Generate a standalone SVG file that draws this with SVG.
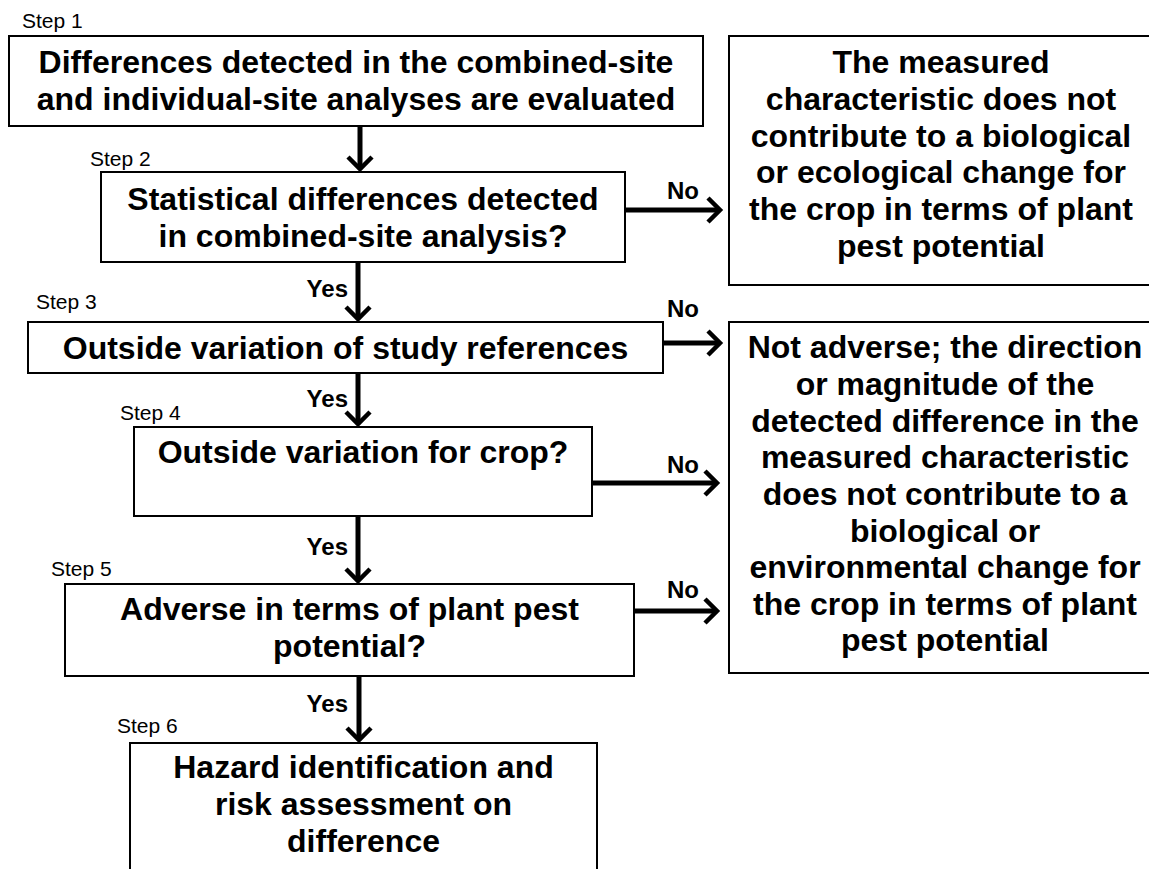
<svg xmlns="http://www.w3.org/2000/svg" width="1149" height="869" viewBox="0 0 1149 869">
<style>
.box{fill:#fff;stroke:#000;stroke-width:2}
.t{font-family:"Liberation Sans",Arial,sans-serif;font-weight:bold;font-size:32px;text-anchor:middle;fill:#000}
.step{font-family:"Liberation Sans",Arial,sans-serif;font-size:21px;fill:#000}
.lbl{font-family:"Liberation Sans",Arial,sans-serif;font-weight:bold;font-size:24px;fill:#000}
.c{stroke:#000;stroke-width:5;fill:none}
</style>
<defs>
<marker id="ah" viewBox="-20 -16 26 32" refX="0" refY="0" markerWidth="26" markerHeight="32" markerUnits="userSpaceOnUse" orient="auto" overflow="visible">
<path d="M-11,-12 L1,0 L-11,12" fill="none" stroke="#000" stroke-width="4.5" stroke-linejoin="miter"/>
</marker>
</defs>
<rect width="1149" height="869" fill="#fff"/>

<g id="step1">
<text class="step" x="22" y="28">Step 1</text>
<rect class="box" x="9" y="36" width="694" height="90"/>
<text class="t" x="356" y="73">Differences detected in the combined-site</text>
<text class="t" x="356" y="110">and individual-site analyses are evaluated</text>
</g>

<g id="step2">
<text class="step" x="90" y="166">Step 2</text>
<rect class="box" x="101" y="172" width="524" height="90"/>
<text class="t" x="363" y="210">Statistical differences detected</text>
<text class="t" x="363" y="247">in combined-site analysis?</text>
</g>

<g id="step3">
<text class="step" x="36" y="309">Step 3</text>
<rect class="box" x="28" y="322" width="635" height="51"/>
<text class="t" x="345.5" y="359">Outside variation of study references</text>
</g>

<g id="step4">
<text class="step" x="120" y="420">Step 4</text>
<rect class="box" x="134" y="427" width="458" height="89"/>
<text class="t" x="363" y="463">Outside variation for crop?</text>
</g>

<g id="step5">
<text class="step" x="51" y="576">Step 5</text>
<rect class="box" x="65" y="584" width="569" height="92"/>
<text class="t" x="349.5" y="620">Adverse in terms of plant pest</text>
<text class="t" x="349.5" y="657">potential?</text>
</g>

<g id="step6">
<text class="step" x="117" y="733">Step 6</text>
<rect class="box" x="130" y="743" width="467" height="140"/>
<text class="t" x="363.5" y="778">Hazard identification and</text>
<text class="t" x="363.5" y="815">risk assessment on</text>
<text class="t" x="363.5" y="852">difference</text>
</g>

<g id="outcome1">
<rect class="box" x="729" y="36" width="430" height="249"/>
<text class="t" x="941" y="73">The measured</text>
<text class="t" x="941" y="110">characteristic does not</text>
<text class="t" x="941" y="147">contribute to a biological</text>
<text class="t" x="941" y="183">or ecological change for</text>
<text class="t" x="941" y="220">the crop in terms of plant</text>
<text class="t" x="941" y="257">pest potential</text>
</g>

<g id="outcome2">
<rect class="box" x="729" y="322" width="436" height="351"/>
<text class="t" x="945" y="358">Not adverse; the direction</text>
<text class="t" x="945" y="395">or magnitude of the</text>
<text class="t" x="945" y="432">detected difference in the</text>
<text class="t" x="945" y="468">measured characteristic</text>
<text class="t" x="945" y="505">does not contribute to a</text>
<text class="t" x="945" y="542">biological or</text>
<text class="t" x="945" y="578">environmental change for</text>
<text class="t" x="945" y="615">the crop in terms of plant</text>
<text class="t" x="945" y="651">pest potential</text>
</g>

<g id="connectors">
<path class="c" d="M360,127 V168" marker-end="url(#ah)"/>
<path class="c" d="M626,210 H719" marker-end="url(#ah)"/>
<path class="c" d="M358,263 V318" marker-end="url(#ah)"/>
<path class="c" d="M664,343 H719" marker-end="url(#ah)"/>
<path class="c" d="M358,374 V423" marker-end="url(#ah)"/>
<path class="c" d="M593,483 H716" marker-end="url(#ah)"/>
<path class="c" d="M358,517 V580" marker-end="url(#ah)"/>
<path class="c" d="M635,611 H716" marker-end="url(#ah)"/>
<path class="c" d="M359,677 V739" marker-end="url(#ah)"/>
<text class="lbl" x="667" y="199">No</text>
<text class="lbl" x="667" y="317">No</text>
<text class="lbl" x="667" y="473">No</text>
<text class="lbl" x="667" y="598">No</text>
<text class="lbl" x="348" y="297" text-anchor="end">Yes</text>
<text class="lbl" x="348" y="407" text-anchor="end">Yes</text>
<text class="lbl" x="348" y="555" text-anchor="end">Yes</text>
<text class="lbl" x="348" y="712" text-anchor="end">Yes</text>
</g>
</svg>
